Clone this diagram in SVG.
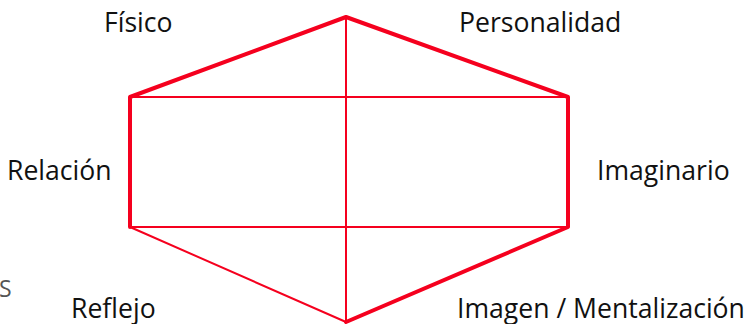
<svg xmlns="http://www.w3.org/2000/svg" width="750" height="324" viewBox="0 0 750 324">
<style>
.t{font-family:"Open Sans","Noto Sans",sans-serif;font-size:26.6px;fill:#111}
.s{font-family:"Open Sans","Noto Sans",sans-serif;font-size:23px;fill:#555}
.thick{stroke:#f5001e;stroke-width:4;fill:none;stroke-linejoin:round;stroke-linecap:round}
.thin{stroke:#f5001e;stroke-width:2;fill:none;stroke-linecap:round}
</style>
<rect width="750" height="324" fill="#fff"/>
<g id="connectors">
<line class="thin" x1="346" y1="17" x2="346" y2="322"/>
<line class="thin" x1="130" y1="97" x2="568" y2="97"/>
<line class="thin" x1="130" y1="227" x2="568" y2="227"/>
<line class="thin" x1="130" y1="227" x2="346" y2="322"/>
<polyline class="thick" points="346,322 568,227 568,97 346,17 130,97 130,227"/>
</g>
<g id="fisico"><text class="t" x="104" y="32">Físico</text></g>
<g id="personalidad"><text class="t" x="459" y="32">Personalidad</text></g>
<g id="relacion"><text class="t" x="7" y="180">Relación</text></g>
<g id="imaginario"><text class="t" x="597" y="180">Imaginario</text></g>
<g id="reflejo"><text class="t" x="71" y="318">Reflejo</text></g>
<g id="imagen"><text class="t" x="457" y="318">Imagen / Mentalización</text></g>
<g id="s"><text class="s" x="-1" y="297">S</text></g>
</svg>
